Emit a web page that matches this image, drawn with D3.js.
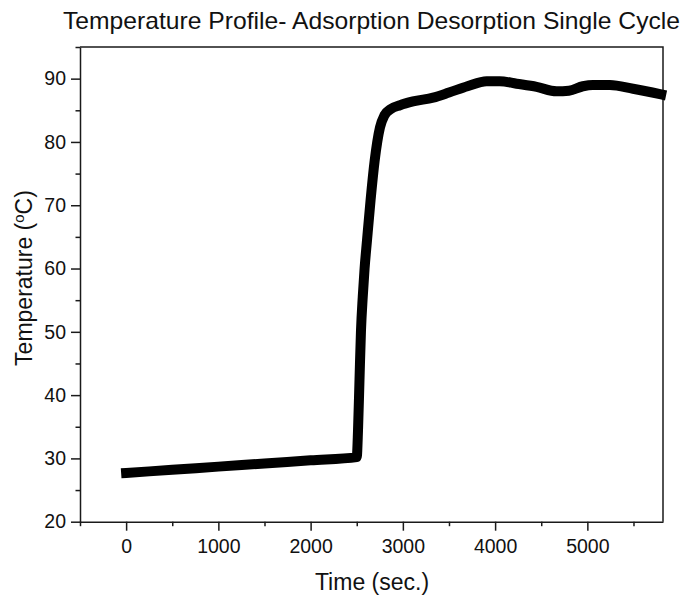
<!DOCTYPE html>
<html>
<head>
<meta charset="utf-8">
<script src="https://cdn.jsdelivr.net/npm/d3@7"></script>
<style>
  body { margin: 0; background: #fff; }
  svg { font-family: Arial, "Liberation Sans", sans-serif; }
  .axis path, .axis line { stroke: #1a1a1a; stroke-width: 1.5; }
  .axis text { fill: #111; font-size: 19.5px; }
</style>
</head>
<body>
<svg width="683" height="600"></svg>
<script>
// time (sec.) and temperature (°C)
const times = [0, 500, 1000, 1500, 2000, 2500, 2514, 2530, 2546, 2565, 2585, 2611, 2650, 2694, 2752, 2800, 2870, 2969, 3110, 3328, 3500, 3700, 3908, 4050, 4233, 4450, 4666, 4800, 4952, 5060, 5244, 5495, 5800];
const temps = [27.7, 28.2, 28.7, 29.2, 29.7, 30.2, 34.5, 42.5, 50.2, 55.5, 60, 64.4, 70.8, 77, 82.3, 84.2, 85.2, 85.8, 86.4, 87.0, 87.8, 88.8, 89.6, 89.6, 89.2, 88.7, 88.0, 88.1, 88.8, 89.0, 89.0, 88.4, 87.5];

const xMajor = [0, 1000, 2000, 3000, 4000, 5000];
const xMinor = [-500, 500, 1500, 2500, 3500, 4500, 5500];
const yMajor = [20, 30, 40, 50, 60, 70, 80, 90];
const yMinor = [25, 35, 45, 55, 65, 75, 85, 95];

const svg = d3.select('svg');
const m_left = 80, m_right = 663, m_top = 47, m_bottom = 521.7;

const x = d3.scaleLinear().domain([-500, 5820]).range([m_left, m_right]);
const y = d3.scaleLinear().domain([20, 95]).range([m_bottom, m_top]);

// frame (top + right)
svg.append('path')
   .attr('d', `M${m_left},${m_top}H${m_right}V${m_bottom}`)
   .attr('fill', 'none')
   .attr('stroke', '#1a1a1a')
   .attr('stroke-width', 1.5);

svg.append('g').attr('class', 'axis').attr('transform', `translate(0,${m_bottom})`)
   .call(d3.axisBottom(x).tickValues(xMajor).tickFormat(d3.format('d')).tickSize(9).tickSizeOuter(0).tickPadding(8));
svg.append('g').attr('class', 'axis').attr('transform', `translate(0,${m_bottom})`)
   .call(d3.axisBottom(x).tickValues(xMinor).tickSize(4.5).tickSizeOuter(0).tickFormat(''))
   .select('.domain').remove();

svg.append('g').attr('class', 'axis').attr('transform', `translate(${m_left},0)`)
   .call(d3.axisLeft(y).tickValues(yMajor).tickFormat(d3.format('d')).tickSize(9).tickSizeOuter(0).tickPadding(5));
svg.append('g').attr('class', 'axis').attr('transform', `translate(${m_left},0)`)
   .call(d3.axisLeft(y).tickValues(yMinor).tickSize(4.5).tickSizeOuter(0).tickFormat(''))
   .select('.domain').remove();

svg.selectAll('.axis text').attr('font-family', 'Arial, "Liberation Sans", sans-serif');

// the curve
const line = d3.line()
               .curve(d3.curveMonotoneX)
               .x((d, i) => x(times[i]))
               .y(d => y(d));

svg.append('path')
   .datum(temps)
   .attr('d', line)
   .attr('fill', 'none')
   .attr('stroke', '#000')
   .attr('stroke-width', 10)
   .attr('stroke-linecap', 'square')
   .attr('stroke-linejoin', 'miter');

// titles
svg.append('text')
   .attr('x', 63).attr('y', 29)
   .attr('font-size', 24)
   .attr('textLength', 617)
   .attr('lengthAdjust', 'spacingAndGlyphs')
   .attr('fill', '#111')
   .text('Temperature Profile- Adsorption Desorption Single Cycle');

svg.append('text')
   .attr('x', 372).attr('y', 590)
   .attr('text-anchor', 'middle')
   .attr('font-size', 23)
   .attr('fill', '#111')
   .text('Time (sec.)');

const ylab = svg.append('text')
   .attr('transform', 'translate(32,278) rotate(-90)')
   .attr('text-anchor', 'middle')
   .attr('font-size', 23)
   .attr('fill', '#111');
ylab.append('tspan').text('Temperature (');
ylab.append('tspan').attr('font-size', 15).attr('dy', -8).text('o');
ylab.append('tspan').attr('dy', 8).text('C)');
</script>
</body>
</html>
